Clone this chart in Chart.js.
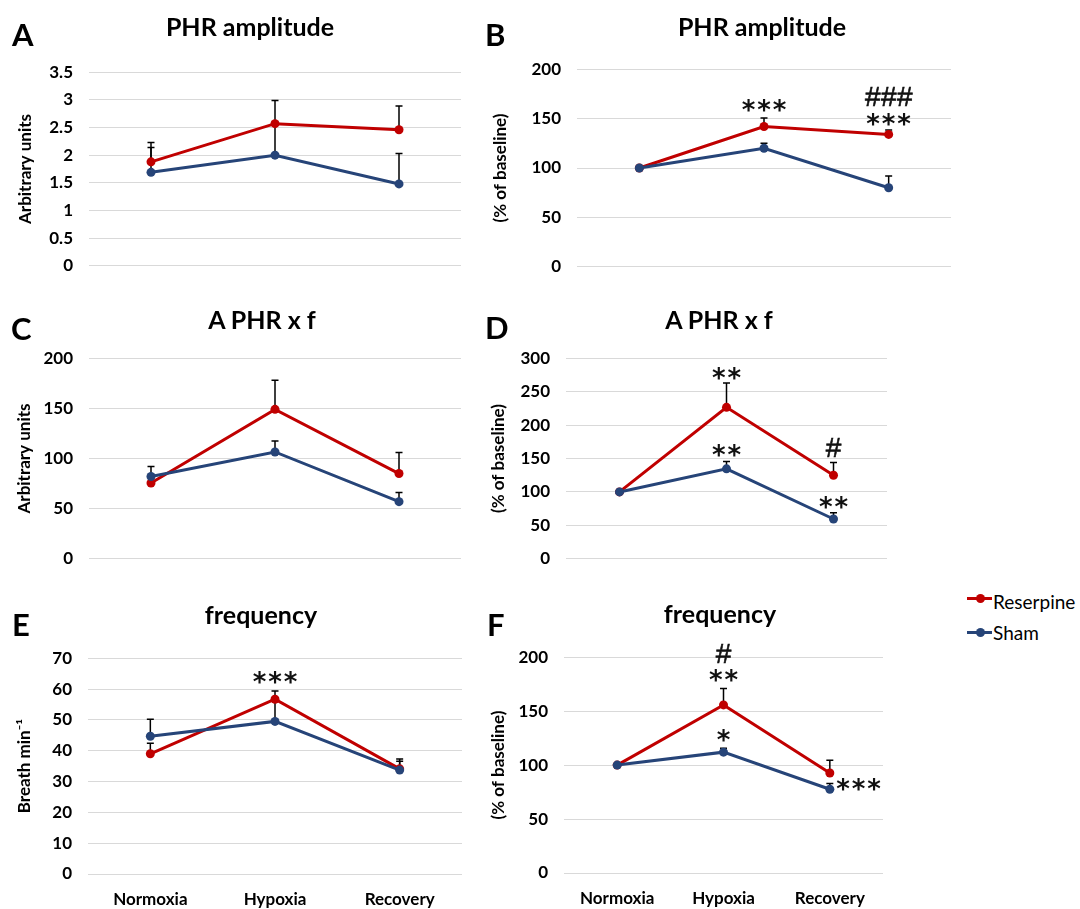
<!DOCTYPE html>
<html>
<head>
<meta charset="utf-8">
<script src="https://cdn.jsdelivr.net/npm/chart.js@4.4.1/dist/chart.umd.min.js"></script>
<style>
  html, body { margin: 0; padding: 0; background: #fff; }
  body { width: 1080px; height: 909px; position: relative; overflow: hidden; font-family: Lato, sans-serif; }
  canvas { position: absolute; }
  .letter { position: absolute; font: bold 31px/1 Lato, sans-serif; color: #000; }
  .title { position: absolute; font: bold 25px/1 Lato, sans-serif; color: #000; transform: translateX(-50%); white-space: nowrap; }
  .leg-text { position: absolute; font: 19px/1 Lato, sans-serif; color: #000; white-space: nowrap; }
  .leg-line { position: absolute; height: 3px; width: 25px; }
  .leg-dot { position: absolute; width: 9px; height: 9px; border-radius: 50%; }
</style>
</head>
<body>
<script>
const categories = ['Normoxia', 'Hypoxia', 'Recovery']
const seriesNames = ['Reserpine', 'Sham']

// A - PHR amplitude (arbitrary units)
const ampReserpine = [1.88, 2.57, 2.46]
const ampReserpineErr = [0.35, 0.42, 0.43]
const ampSham = [1.69, 2.0, 1.48]
const ampShamErr = [0.45, 0.6, 0.55]

// B - PHR amplitude (% of baseline)
const ampPctReserpine = [100, 142, 134]
const ampPctReserpineErr = [0, 8.6, 4.5]
const ampPctSham = [100, 120, 80]
const ampPctShamErr = [0, 5, 12]

// C - A PHR x f (arbitrary units)
const minVolReserpine = [75.6, 149, 85]
const minVolReserpineErr = [7, 29, 21]
const minVolSham = [82, 106.5, 57]
const minVolShamErr = [10, 11, 9]

// D - A PHR x f (% of baseline)
const minVolPctReserpine = [100, 226.5, 125]
const minVolPctReserpineErr = [0, 36.5, 19]
const minVolPctSham = [100, 134.5, 59.5]
const minVolPctShamErr = [0, 11, 9.5]

// E - frequency (breath/min)
const freqReserpine = [39, 56.7, 34.1]
const freqReserpineErr = [3.4, 2.7, 2.5]
const freqSham = [44.7, 49.5, 33.7]
const freqShamErr = [5.5, 6.5, 3.6]

// F - frequency (% of baseline)
const freqPctReserpine = [100, 155.8, 92.7]
const freqPctReserpineErr = [0, 15.2, 11.8]
const freqPctSham = [100, 112, 77.6]
const freqPctShamErr = [0, 3.6, 5.4]

// significance marks: category position, value, symbol
const marksB = [[1, 163.6, '***'], [2, 172.7, '###'], [2, 149.4, '***']]
const marksD = [[1, 277.5, '**'], [1, 162, '**'], [2, 166.8, '#'], [2, 84.8, '**']]
const marksE = [[1, 63.6, '***']]
const marksF = [[1, 203.6, '#'], [1, 183.3, '**'], [1, 127.3, '*'], [2.27, 82.4, '***']]

const RED = '#C00000'
const BLUE = '#264478'
const GRID = '#D9D9D9'
const AXIS_FONT = { family: 'Lato', weight: 'bold', size: 17 }

const panels = [
  { letter: 'A', lx: 12, ly: 18.5, title: 'PHR amplitude', tx: 250, ty: 13.5, box: [89, 68, 461, 284], yTitle: 'Arbitrary units', yTitleX: 25.5, max: 3.5, step: 0.5, red: ampReserpine, redErr: ampReserpineErr, blue: ampSham, blueErr: ampShamErr, marks: [], showX: false },
  { letter: 'B', lx: 485, ly: 18.5, title: 'PHR amplitude', tx: 762, ty: 13.5, box: [577, 65, 951, 285], yTitle: '(% of baseline)', yTitleX: 501, max: 200, step: 50, red: ampPctReserpine, redErr: ampPctReserpineErr, blue: ampPctSham, blueErr: ampPctShamErr, marks: marksB, showX: false },
  { letter: 'C', lx: 11, ly: 312.5, title: 'A PHR x f', tx: 262, ty: 306.5, box: [89, 354, 461, 577], yTitle: 'Arbitrary units', yTitleX: 25, max: 200, step: 50, red: minVolReserpine, redErr: minVolReserpineErr, blue: minVolSham, blueErr: minVolShamErr, marks: [], showX: false },
  { letter: 'D', lx: 485, ly: 312, title: 'A PHR x f', tx: 719, ty: 306.5, box: [566, 354, 887, 577], yTitle: '(% of baseline)', yTitleX: 498.5, max: 300, step: 50, red: minVolPctReserpine, redErr: minVolPctReserpineErr, blue: minVolPctSham, blueErr: minVolPctShamErr, marks: marksD, showX: false },
  { letter: 'E', lx: 12, ly: 609, title: 'frequency', tx: 261, ty: 602, box: [88, 654, 462, 874], yTitle: 'Breath min\u207B\u00B9', yTitleX: 24.5, max: 70, step: 10, red: freqReserpine, redErr: freqReserpineErr, blue: freqSham, blueErr: freqShamErr, marks: marksE, showX: true },
  { letter: 'F', lx: 487, ly: 609, title: 'frequency', tx: 720, ty: 601, box: [564, 653, 883, 873], yTitle: '(% of baseline)', yTitleX: 498.5, max: 200, step: 50, red: freqPctReserpine, redErr: freqPctReserpineErr, blue: freqPctSham, blueErr: freqPctShamErr, marks: marksF, showX: true }
]

// upward error bars, under the lines
const errorBars = {
  id: 'errorBars',
  beforeDatasetsDraw (chart) {
    const { ctx } = chart
    const y = chart.scales.y
    ctx.save()
    ctx.strokeStyle = '#000'
    ctx.lineWidth = 1.5
    chart.data.datasets.forEach((ds, di) => {
      const meta = chart.getDatasetMeta(di)
      meta.data.forEach((pt, i) => {
        const e = ds.err[i]
        if (!e) return
        const top = y.getPixelForValue(ds.data[i] + e)
        ctx.beginPath()
        ctx.moveTo(pt.x, pt.y)
        ctx.lineTo(pt.x, top)
        ctx.moveTo(pt.x - 3.5, top)
        ctx.lineTo(pt.x + 3.5, top)
        ctx.stroke()
      })
    })
    ctx.restore()
  }
}

const sigMarks = {
  id: 'sigMarks',
  afterDatasetsDraw (chart, args, opts) {
    const { ctx } = chart
    const xs = chart.scales.x
    const ys = chart.scales.y
    ctx.save()
    ctx.fillStyle = '#111'
    ctx.textAlign = 'center'
    ctx.textBaseline = 'alphabetic'
    opts.marks.forEach(([xv, yv, text]) => {
      const cx = xs.getPixelForValue(xv)
      const cy = ys.getPixelForValue(yv)
      const star = text[0] === '*'
      ctx.font = star ? 'bold 26px "DejaVu Sans"' : '28px "Liberation Sans"'
      const pitch = star ? 15.5 : 16
      const m = ctx.measureText(text[0])
      const dy = (m.actualBoundingBoxAscent - m.actualBoundingBoxDescent) / 2
      for (let k = 0; k < text.length; k++) {
        ctx.fillText(text[k], cx + (k - (text.length - 1) / 2) * pitch, cy + dy)
      }
      if (!star) {
        // slightly heavier hash strokes
        ctx.lineWidth = 0.6
        ctx.strokeStyle = '#111'
        for (let k = 0; k < text.length; k++) {
          ctx.strokeText(text[k], cx + (k - (text.length - 1) / 2) * pitch, cy + dy)
        }
      }
    })
    ctx.restore()
  }
}

function addText (cls, text, left, top) {
  const d = document.createElement('div')
  d.className = cls
  d.textContent = text
  d.style.left = left + 'px'
  d.style.top = top + 'px'
  document.body.appendChild(d)
}

function makePanel (p) {
  const [L, T, R, B] = p.box
  const left = L < 480 ? 0 : 480
  const yW = L - left
  const padTop = 22
  const padRight = 12
  const xH = p.showX ? 34 : 8
  const w = R - left + padRight
  const h = B - T + padTop + xH
  const cv = document.createElement('canvas')
  cv.width = w
  cv.height = h
  cv.style.left = left + 'px'
  cv.style.top = (T - padTop) + 'px'
  cv.style.width = w + 'px'
  cv.style.height = h + 'px'
  document.body.appendChild(cv)

  const line = (label, data, err, color, order) => ({
    label,
    data,
    err,
    order,
    borderColor: color,
    backgroundColor: color,
    borderWidth: 3,
    pointRadius: 4.5,
    pointBorderWidth: 0,
    pointHoverRadius: 4.5,
    tension: 0
  })

  new Chart(cv, {
    type: 'line',
    data: {
      labels: categories,
      datasets: [
        line(seriesNames[0], p.red, p.redErr, RED, 1),
        line(seriesNames[1], p.blue, p.blueErr, BLUE, 0)
      ]
    },
    plugins: [errorBars, sigMarks],
    options: {
      responsive: false,
      animation: false,
      events: [],
      layout: { padding: { top: padTop, right: padRight, left: 0, bottom: 0 } },
      plugins: {
        legend: { display: false },
        tooltip: { enabled: false },
        sigMarks: { marks: p.marks }
      },
      scales: {
        x: {
          offset: true,
          grid: { display: false },
          border: { display: false },
          ticks: {
            display: p.showX,
            color: '#000',
            padding: 7,
            font: AXIS_FONT
          },
          afterFit (s) { s.height = xH }
        },
        y: {
          min: 0,
          max: p.max,
          grid: { color: GRID, lineWidth: 1, drawTicks: false },
          border: { display: false },
          ticks: {
            stepSize: p.step,
            color: '#000',
            padding: 16,
            font: AXIS_FONT,
            callback: v => String(+v.toFixed(2))
          },
          title: {
            display: true,
            text: p.yTitle,
            color: '#000',
            font: AXIS_FONT,
            padding: { top: p.yTitleX - left - 10.2, bottom: 0 }
          },
          afterFit (s) { s.width = yW }
        }
      }
    }
  })

  addText('letter', p.letter, p.lx, p.ly)
  const t = document.createElement('div')
  t.className = 'title'
  t.textContent = p.title
  t.style.left = p.tx + 'px'
  t.style.top = p.ty + 'px'
  document.body.appendChild(t)
}

// legend
const legendRows = [[RED, 598, 592], [BLUE, 632, 623]]
seriesNames.forEach((name, i) => {
  const [color, ly, ty] = legendRows[i]
  const ln = document.createElement('div')
  ln.className = 'leg-line'
  ln.style.background = color
  ln.style.left = '967px'
  ln.style.top = (ly - 1.5) + 'px'
  document.body.appendChild(ln)
  const dot = document.createElement('div')
  dot.className = 'leg-dot'
  dot.style.background = color
  dot.style.left = '975.5px'
  dot.style.top = (ly - 4.5) + 'px'
  document.body.appendChild(dot)
  addText('leg-text', name, 993, ty)
})

// make sure the bold face is ready before the canvases draw text
Promise.all([
  document.fonts.load('bold 17px Lato'),
  document.fonts.load('17px Lato'),
  document.fonts.load('bold 26px "DejaVu Sans"'),
  document.fonts.load('28px "Liberation Sans"')
]).then(() => panels.forEach(makePanel), () => panels.forEach(makePanel))
</script>
</body>
</html>
